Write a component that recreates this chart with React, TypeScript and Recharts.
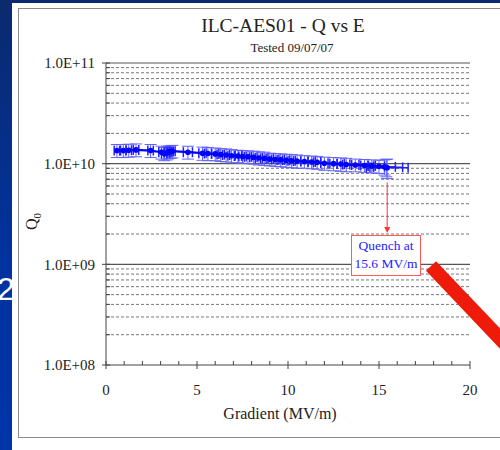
import {
  ScatterChart,
  Scatter,
  XAxis,
  YAxis,
  ErrorBar,
  ReferenceLine,
} from "recharts";

// Q0 vs accelerating gradient
const gradient = [
  0.6, 0.95, 1.25, 1.65, 2.45, 3.05, 3.2, 3.35, 3.45, 3.55, 3.65, 4.5, 5.3, 5.6,
  6.0, 6.3, 6.6, 6.9, 7.25, 7.5, 7.8, 8.1, 8.4, 8.7, 9.0, 9.3, 9.6, 9.9, 10.2,
  10.5, 10.9, 11.3, 11.6, 12.0, 12.5, 12.9, 13.2, 13.7, 14.2, 14.6, 15.0, 15.3,
  15.4, 15.45,
];
const q0 = [
  1.35e10, 1.35e10, 1.36e10, 1.37e10, 1.35e10, 1.3e10, 1.26e10, 1.28e10,
  1.31e10, 1.32e10, 1.33e10, 1.3e10, 1.27e10, 1.26e10, 1.25e10, 1.23e10,
  1.22e10, 1.2e10, 1.19e10, 1.18e10, 1.17e10, 1.16e10, 1.14e10, 1.13e10,
  1.11e10, 1.1e10, 1.09e10, 1.08e10, 1.07e10, 1.06e10, 1.05e10, 1.04e10,
  1.03e10, 1.01e10, 1.0e10, 0.99e10, 0.98e10, 0.97e10, 0.96e10, 0.95e10,
  0.94e10, 0.93e10, 0.92e10, 0.91e10,
];
const q0Err = [
  2.0e9, 2.0e9, 2.0e9, 2.0e9, 2.0e9, 1.9e9, 1.9e9, 1.9e9, 1.9e9, 1.9e9, 1.9e9,
  1.9e9, 1.9e9, 1.9e9, 1.8e9, 1.8e9, 1.8e9, 1.8e9, 1.7e9, 1.7e9, 1.7e9, 1.7e9,
  1.7e9, 1.7e9, 1.6e9, 1.6e9, 1.6e9, 1.6e9, 1.6e9, 1.6e9, 1.5e9, 1.5e9,
  1.5e9, 1.5e9, 1.5e9, 1.5e9, 1.5e9, 1.4e9, 1.4e9, 1.4e9, 1.4e9, 1.6e9,
  1.8e9, 2.0e9,
];
const gradientErr = [
  0.15, 0.15, 0.15, 0.15, 0.15, 0.15, 0.15, 0.15, 0.15, 0.15, 0.15, 0.25, 0.2,
  0.2, 0.2, 0.2, 0.2, 0.2, 0.2, 0.2, 0.2, 0.2, 0.2, 0.2, 0.2, 0.2, 0.2, 0.2,
  0.2, 0.2, 0.2, 0.2, 0.2, 0.2, 0.2, 0.2, 0.2, 0.2, 0.2, 0.2, 0.3, 0.6, 0.9,
  1.15,
];

const xTicks = [0, 1, 2, 3, 4, 5, 6, 7, 8, 9, 10, 11, 12, 13, 14, 15, 16, 17, 18, 19, 20];
const decades = [1e8, 1e9, 1e10, 1e11];
const decadeLabels = ["1.0E+08", "1.0E+09", "1.0E+10", "1.0E+11"];
const quenchGradient = 15.45;

const minorY: number[] = [];
for (const d of decades.slice(0, 3)) {
  for (let m = 2; m <= 9; m++) minorY.push(d * m);
}
const yTicks = [...decades, ...minorY];

const data = gradient.map((e, i) => ({
  e,
  q: q0[i],
  qErr: q0Err[i],
  eErr: gradientErr[i],
}));

const serif = "'Liberation Serif', 'Times New Roman', serif";

const YTick = (props: any) => {
  const { x, y, payload } = props;
  const i = decades.indexOf(payload.value);
  if (i < 0) {
    return <line x1={x} x2={x + 4} y1={y} y2={y} stroke="#444" />;
  }
  return (
    <g>
      <line x1={x - 4} x2={x + 4} y1={y} y2={y} stroke="#444" />
      <text x={x - 11} y={y} dy="0.35em" textAnchor="end" fontSize={15} fontFamily={serif} fill="#222">
        {decadeLabels[i]}
      </text>
    </g>
  );
};

const XTick = (props: any) => {
  const { x, y, payload } = props;
  const major = payload.value % 5 === 0;
  if (!major) {
    return <line x1={x} x2={x} y1={y} y2={y - 4} stroke="#444" />;
  }
  return (
    <g>
      <line x1={x} x2={x} y1={y - 4} y2={y + 4} stroke="#444" />
      <text x={x} y={y + 30} textAnchor="middle" fontSize={15} fontFamily={serif} fill="#222">
        {payload.value}
      </text>
    </g>
  );
};

const QuenchArrow = (props: any) => {
  const { x1, y1, x2, y2 } = props;
  return (
    <g>
      <line x1={x1} y1={y1} x2={x2} y2={y2 - 4} stroke="#ff3333" strokeWidth={1} />
      <polygon points={`${x2 - 3},${y2 - 6} ${x2 + 3},${y2 - 6} ${x2},${y2}`} fill="#ff3333" />
    </g>
  );
};

export default function App() {
  return (
    <div
      style={{
        position: "fixed",
        left: 0,
        top: 0,
        width: 500,
        height: 450,
        background: "linear-gradient(180deg, #0b2a6e 0%, #0033a0 60%, #0035a8 100%)",
        overflow: "hidden",
      }}
    >
      <svg width={40} height={450} style={{ position: "absolute", left: 0, top: 0 }}>
        <text x={-3} y={300} fontSize={32} fontFamily="'Liberation Sans', Arial, sans-serif" fill="#fff">
          2
        </text>
      </svg>
      <div style={{ position: "absolute", left: 12, top: 3, width: 488, height: 447, background: "#fff" }} />
      <div
        style={{
          position: "absolute",
          left: 18,
          top: 8,
          width: 500,
          height: 428,
          borderLeft: "1.5px solid #8a8a8a",
          borderTop: "1.5px solid #8a8a8a",
          borderBottom: "1.5px solid #8a8a8a",
        }}
      />
      <div
        style={{
          position: "absolute",
          left: 0,
          top: 0,
          width: 500,
          height: 450,
          fontFamily: serif,
          color: "#222",
        }}
      >
        <div style={{ position: "absolute", left: 138, width: 290, top: 15, textAlign: "center", fontSize: 19.5 }}>
          ILC-AES01 - Q vs E
        </div>
        <div style={{ position: "absolute", left: 192, width: 200, top: 40, textAlign: "center", fontSize: 13 }}>
          Tested 09/07/07
        </div>
        <div style={{ position: "absolute", left: 180, width: 200, top: 405, textAlign: "center", fontSize: 16 }}>
          Gradient (MV/m)
        </div>
      </div>
      <svg width={60} height={450} style={{ position: "absolute", left: 0, top: 0 }}>
        <text x={37} y={230} transform="rotate(-90 37 230)" fontSize={16} fontFamily={serif} fill="#222">
          Q<tspan fontSize={11} dy={4}>0</tspan>
        </text>
      </svg>
      <div style={{ position: "absolute", left: 0, top: 0 }}>
        <ScatterChart width={500} height={450} margin={{ top: 63, right: 30, bottom: 55, left: 0 }}>
          {minorY.map((v) => (
            <ReferenceLine key={v} y={v} stroke="#777" strokeDasharray="3 2" ifOverflow="hidden" />
          ))}
          {decades.slice(1).map((v) => (
            <ReferenceLine key={v} y={v} stroke="#555" strokeWidth={1.2} />
          ))}
          <XAxis
            type="number"
            dataKey="e"
            domain={[0, 20]}
            ticks={xTicks}
            interval={0}
            height={30}
            tickSize={0}
            tickMargin={0}
            tickLine={false}
            tick={<XTick />}
            axisLine={{ stroke: "#444" }}
          />
          <YAxis
            type="number"
            dataKey="q"
            scale="log"
            domain={[1e8, 1e11]}
            allowDataOverflow
            ticks={yTicks}
            interval={0}
            width={106}
            tickSize={0}
            tickMargin={0}
            tickLine={false}
            tick={<YTick />}
            axisLine={{ stroke: "#444" }}
          />
          <Scatter
            data={data}
            isAnimationActive={false}
            line={{ stroke: "#0000ff", strokeWidth: 2.2 }}
            shape={(p: any) => <circle cx={p.cx} cy={p.cy} r={2.8} fill="#0000ff" />}
          >
            <ErrorBar dataKey="qErr" direction="y" width={6} stroke="#6262ff" strokeWidth={1} isAnimationActive={false} />
            <ErrorBar dataKey="eErr" direction="x" width={5} stroke="#2020ff" strokeWidth={1.5} isAnimationActive={false} />
          </Scatter>
          <ReferenceLine
            segment={[
              { x: quenchGradient, y: 6.5e9 },
              { x: quenchGradient, y: 2.05e9 },
            ]}
            shape={<QuenchArrow />}
          />
        </ScatterChart>
      </div>
      <div
        style={{
          position: "absolute",
          left: 351,
          top: 235,
          width: 68,
          height: 38,
          border: "1px solid #ff5a5a",
          background: "#fff",
          color: "#2222ff",
          fontFamily: serif,
          fontSize: 13.5,
          lineHeight: "18px",
          textAlign: "center",
          paddingTop: 1,
        }}
      >
        Quench at
        <br />
        15.6 MV/m
      </div>
      <svg width={500} height={450} style={{ position: "absolute", left: 0, top: 0, pointerEvents: "none" }}>
        <line x1={431} y1={266} x2={530} y2={370} stroke="#ee1a0a" strokeWidth={14} />
      </svg>
    </div>
  );
}
